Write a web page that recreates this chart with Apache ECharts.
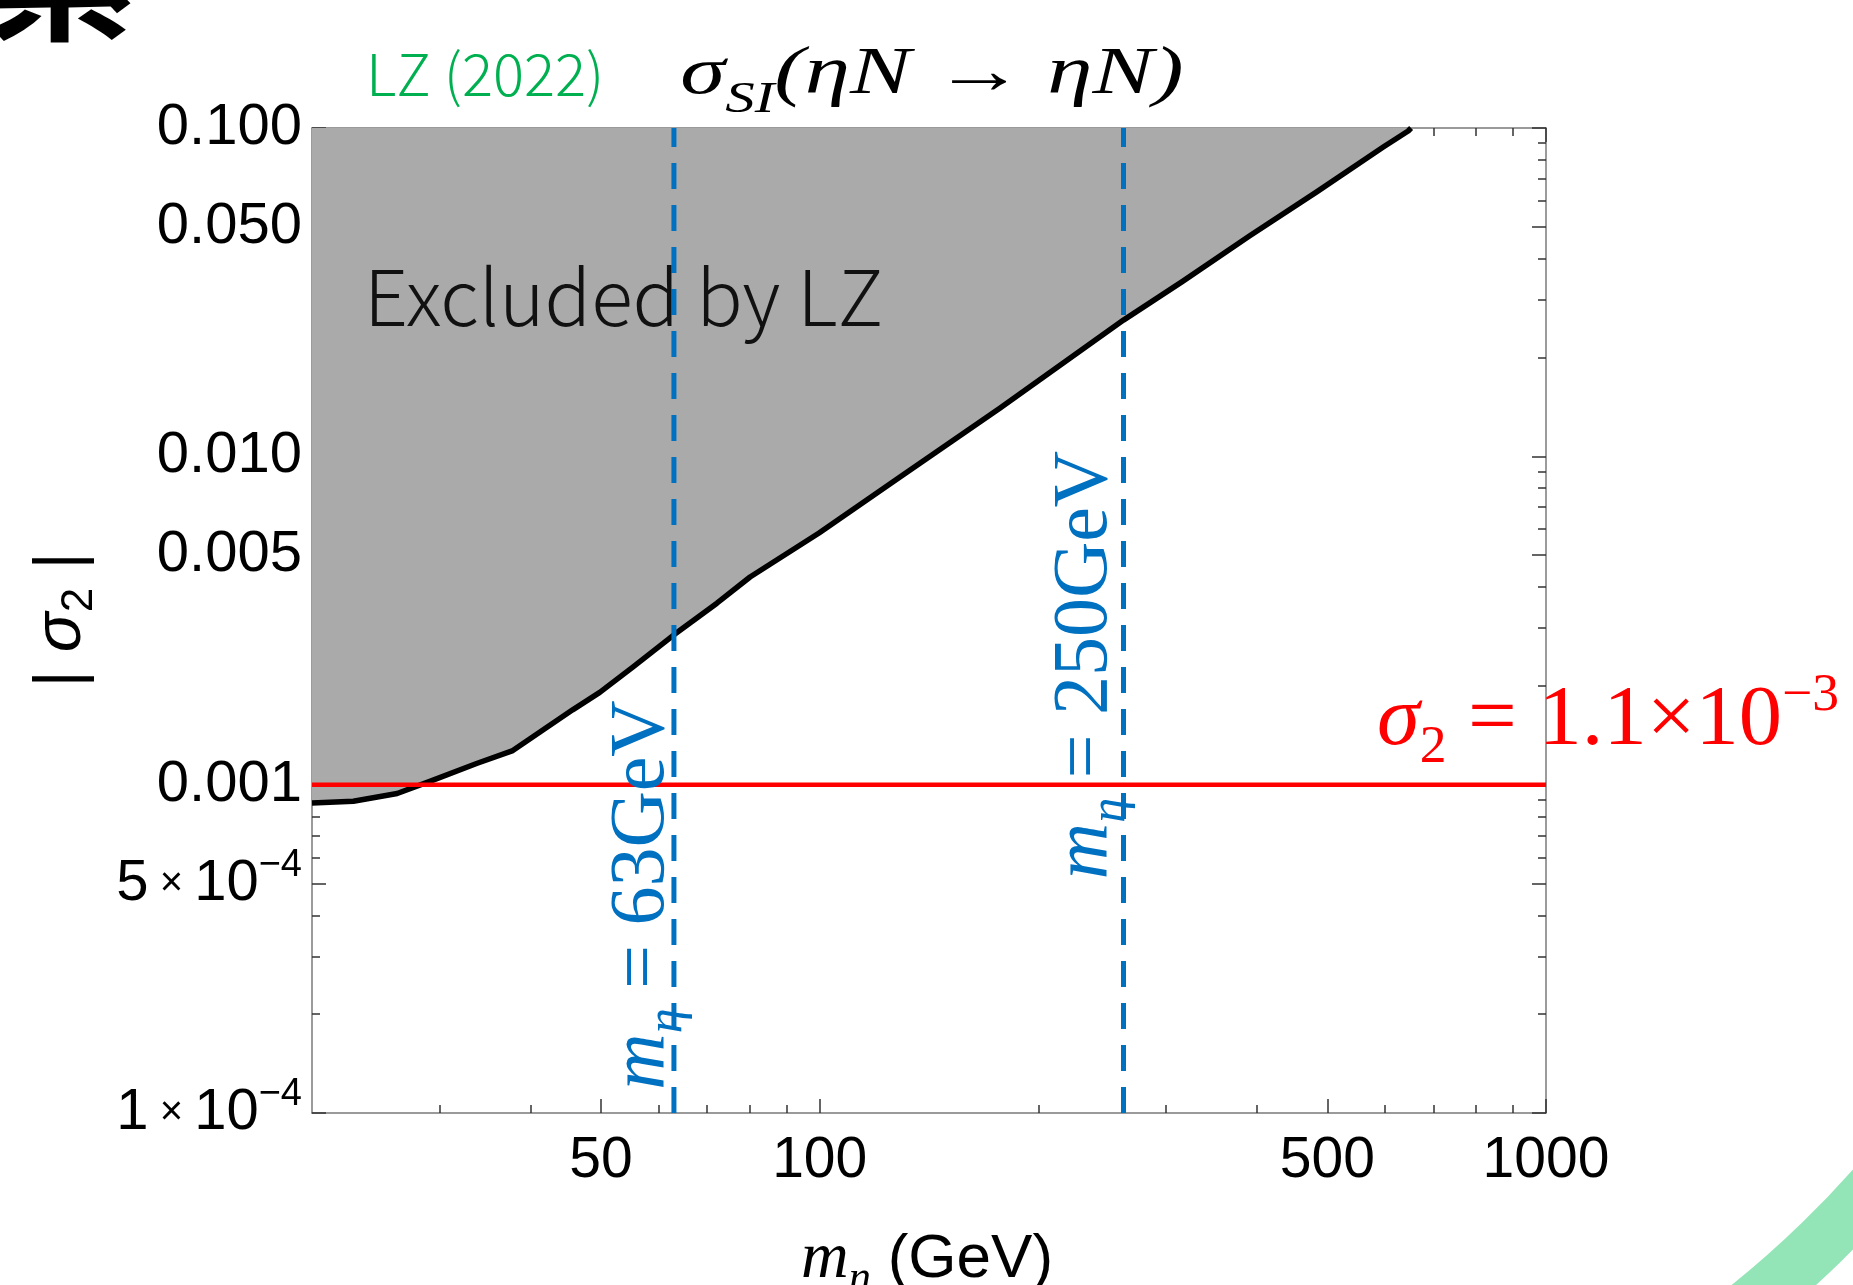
<!DOCTYPE html>
<html>
<head>
<meta charset="utf-8">
<script src="https://cdn.jsdelivr.net/npm/echarts@6/dist/echarts.min.js"></script>
<style>
html,body{margin:0;padding:0;background:#fff;}
#c{width:1853px;height:1285px;}
</style>
</head>
<body>
<div id="c"></div>
<script>
// ---- data ----
const massGeV      = [20, 22.8, 26.2, 29.3, 33.7, 37.8, 40.3, 45.7, 49.8, 55.3, 63, 72.2, 80.2, 99.8, 129, 177, 262, 316, 391, 484, 597, 646, 652];
const sigma2Limit  = [8.8e-4, 8.9e-4, 9.4e-4, 1.03e-3, 1.16e-3, 1.27e-3, 1.40e-3, 1.69e-3, 1.91e-3, 2.28e-3, 2.86e-3, 3.57e-3, 4.29e-3, 5.84e-3, 8.65e-3, 1.40e-2, 2.60e-2, 3.41e-2, 4.70e-2, 6.40e-2, 8.75e-2, 9.79e-2, 0.1];
const massMarkers  = [63, 262];
const markerLabels = ['63GeV', '250GeV'];
const sigma2Ref    = 0.001;
const xRange       = [20, 1000];
const yRange       = [1e-4, 0.1];
const xMajorTicks  = [50, 100, 500, 1000];
const xTickLabels  = ['50', '100', '500', '1000'];
const xMinorTicks  = [30, 40, 60, 70, 80, 90, 200, 300, 400, 600, 700, 800, 900];
const yMajorTicks  = [1e-4, 5e-4, 0.001, 0.005, 0.01, 0.05, 0.1];
const yTickLabels  = ['1|10|−4', '5|10|−4', '0.001', '0.005', '0.010', '0.050', '0.100'];
const yMinorTicks  = [2e-4, 3e-4, 4e-4, 6e-4, 7e-4, 8e-4, 9e-4, 0.002, 0.003, 0.004, 0.006, 0.007, 0.008, 0.009, 0.02, 0.03, 0.04, 0.06, 0.07, 0.08, 0.09];

// ---- build ----
const lg = Math.log10;
const X0 = lg(xRange[0]), X1 = lg(xRange[1]), Y0 = lg(yRange[0]), Y1 = lg(yRange[1]);
const limitData = massGeV.map((m, i) => [lg(m), lg(sigma2Limit[i])]);
const refData = [[X0, lg(sigma2Ref)], [X1, lg(sigma2Ref)]];

const SANS = 'Liberation Sans';
const SERIF = 'Liberation Serif';
const FRAME = '#7a7a7a';
const TICK = '#333333';

function findLabel(v, ticks, labels) {
  const i = ticks.findIndex(t => Math.abs(lg(t) - v) < 1e-6);
  return i >= 0 ? labels[i] : '';
}

function mkAxis(dim, pos, ticks, len, showLine, label) {
  const lo = dim === 'x' ? X0 : Y0, hi = dim === 'x' ? X1 : Y1;
  return {
    type: 'value', position: pos, min: lo, max: hi,
    axisLine: { show: showLine, onZero: false, lineStyle: { color: FRAME, width: 1.5 } },
    axisTick: { show: true, inside: true, length: len, customValues: ticks.map(lg), lineStyle: { color: TICK, width: 1.5 } },
    axisLabel: label || { show: false },
    splitLine: { show: false },
    minorTick: { show: false }
  };
}

const xLabel = {
  show: true, customValues: xMajorTicks.map(lg), margin: 20,
  fontFamily: SANS, fontSize: 57, color: '#000',
  formatter: v => findLabel(v, xMajorTicks, xTickLabels)
};
const yLabel = {
  show: true, customValues: yMajorTicks.map(lg), margin: 10,
  fontFamily: SANS, fontSize: 58, color: '#000',
  formatter: v => {
    const s = findLabel(v, yMajorTicks, yTickLabels);
    if (s.indexOf('|') >= 0) {
      const p = s.split('|');
      return '{m|' + p[0] + '}{x| × }{m|' + p[1] + '}{s|' + p[2] + '}';
    }
    return s;
  },
  rich: {
    m: { fontFamily: SANS, fontSize: 58, color: '#000', lineHeight: 74 },
    x: { fontFamily: SANS, fontSize: 40, color: '#000', lineHeight: 74 },
    s: { fontFamily: SANS, fontSize: 38, color: '#000', lineHeight: 38, verticalAlign: 'top' }
  }
};

const option = {
  animation: false,
  backgroundColor: '#ffffff',
  grid: { left: 312, top: 128, width: 1234, height: 985, containLabel: false, outerBoundsMode: 'none' },
  xAxis: [
    mkAxis('x', 'bottom', xMajorTicks, 14, true, xLabel),
    mkAxis('x', 'bottom', xMinorTicks, 8, false),
    mkAxis('x', 'top', xMajorTicks, 14, true),
    mkAxis('x', 'top', xMinorTicks, 8, false)
  ],
  yAxis: [
    mkAxis('y', 'left', yMajorTicks, 14, true, yLabel),
    mkAxis('y', 'left', yMinorTicks, 8, false),
    mkAxis('y', 'right', yMajorTicks, 14, true),
    mkAxis('y', 'right', yMinorTicks, 8, false)
  ],
  series: [
    {
      name: 'LZ (2022)', type: 'line', xAxisIndex: 0, yAxisIndex: 0, data: limitData,
      symbol: 'none', smooth: false, silent: true, z: 2,
      lineStyle: { color: '#000', width: 5.5, join: 'round' },
      areaStyle: { color: '#aaaaaa', opacity: 1, origin: 'end' }
    },
    {
      name: 'sigma2 ref', type: 'line', xAxisIndex: 0, yAxisIndex: 0, data: refData,
      symbol: 'none', silent: true, z: 4,
      lineStyle: { color: '#ff0000', width: 4.5 }
    }
  ].concat(massMarkers.map((m, i) => ({
    name: 'm_eta = ' + markerLabels[i], type: 'line', xAxisIndex: 0, yAxisIndex: 0,
    data: [[lg(m), Y0], [lg(m), Y1]], symbol: 'none', silent: true, z: 5,
    lineStyle: { color: '#0070c0', width: 5, type: [26, 16] }
  }))),
  graphic: [
    // slide decoration (arc segment in the bottom-right corner)
    { type: 'arc', z: -10, silent: true,
      shape: { cx: 1100, cy: 500, r: 1035, startAngle: 0.5, endAngle: 1.1, clockwise: true },
      style: { stroke: '#93e5b7', lineWidth: 55, fill: null } },
    // cropped heading glyph
    { type: 'text', x: 135, y: -28, z: 100, silent: true,
      style: { text: '素', fontFamily: 'Noto Sans CJK JP', fontWeight: 'bold', fontSize: 150, fill: '#000', textAlign: 'right', textVerticalAlign: 'middle' } },
    // LZ (2022)
    { type: 'text', x: 366, y: 74, z: 100, silent: true,
      style: { text: 'LZ (2022)', fontFamily: 'Noto Sans CJK JP', fontWeight: 300, fontSize: 58, fill: '#00b050', textAlign: 'left', textVerticalAlign: 'middle' } },
    // title formula
    { type: 'text', x: 932, y: 75, z: 100, scaleX: 1.34, silent: true,
      style: {
        text: '{i|σ}{b|SI}{i|(ηN}{r| → }{i|ηN)}', textAlign: 'center', textVerticalAlign: 'middle',
        rich: {
          i: { fontFamily: SERIF, fontStyle: 'italic', fontSize: 68, fill: '#000', lineHeight: 94 },
          r: { fontFamily: SERIF, fontSize: 68, fill: '#000', lineHeight: 94 },
          b: { fontFamily: SERIF, fontStyle: 'italic', fontSize: 44, fill: '#000', lineHeight: 44, verticalAlign: 'bottom' }
        }
      } },
    // Excluded by LZ
    { type: 'text', x: 364, y: 297, z: 100, silent: true,
      style: { text: 'Excluded by LZ', fontFamily: 'Noto Sans CJK JP', fontWeight: 300, fontSize: 77, fill: '#111', textAlign: 'left', textVerticalAlign: 'middle' } },
    // blue marker labels
    { type: 'text', x: 643, y: 895, z: 100, rotation: Math.PI / 2, silent: true,
      style: {
        text: '{i|m}{b|η}{r| = ' + markerLabels[0] + '}', textAlign: 'center', textVerticalAlign: 'middle',
        rich: {
          i: { fontFamily: SERIF, fontStyle: 'italic', fontSize: 78, fill: '#0070c0', lineHeight: 100 },
          r: { fontFamily: SERIF, fontSize: 78, fill: '#0070c0', lineHeight: 100 },
          b: { fontFamily: SERIF, fontStyle: 'italic', fontSize: 50, fill: '#0070c0', lineHeight: 50, verticalAlign: 'bottom' }
        }
      } },
    { type: 'text', x: 1086, y: 665, z: 100, rotation: Math.PI / 2, silent: true,
      style: {
        text: '{i|m}{b|η}{r| = ' + markerLabels[1] + '}', textAlign: 'center', textVerticalAlign: 'middle',
        rich: {
          i: { fontFamily: SERIF, fontStyle: 'italic', fontSize: 78, fill: '#0070c0', lineHeight: 100 },
          r: { fontFamily: SERIF, fontSize: 78, fill: '#0070c0', lineHeight: 100 },
          b: { fontFamily: SERIF, fontStyle: 'italic', fontSize: 50, fill: '#0070c0', lineHeight: 50, verticalAlign: 'bottom' }
        }
      } },
    // red reference label
    { type: 'text', x: 1377, y: 670, z: 100, scaleX: 1.03, silent: true,
      style: {
        text: '{i|σ}{b|2}{r| = 1.1×10}{p|−3}', textAlign: 'left', textVerticalAlign: 'top',
        rich: {
          i: { fontFamily: SERIF, fontStyle: 'italic', fontSize: 84, fill: '#ff0000', lineHeight: 104 },
          r: { fontFamily: SERIF, fontSize: 84, fill: '#ff0000', lineHeight: 104 },
          b: { fontFamily: SERIF, fontSize: 52, fill: '#ff0000', lineHeight: 52, verticalAlign: 'bottom' },
          p: { fontFamily: SERIF, fontSize: 52, fill: '#ff0000', lineHeight: 52, verticalAlign: 'top' }
        }
      } },
    // y axis name
    { type: 'text', x: 62, y: 620, z: 100, rotation: Math.PI / 2, silent: true,
      style: {
        text: '{a|| }{i|σ}{b|2}{a| |}', textAlign: 'center', textVerticalAlign: 'middle',
        rich: {
          a: { fontFamily: SANS, fontSize: 66, fill: '#000', lineHeight: 80 },
          i: { fontFamily: SANS, fontStyle: 'italic', fontSize: 66, fill: '#000', lineHeight: 80 },
          b: { fontFamily: SANS, fontSize: 44, fill: '#000', lineHeight: 44, verticalAlign: 'bottom' }
        }
      } },
    // x axis name
    { type: 'text', x: 927, y: 1260, z: 100, silent: true,
      style: {
        text: '{i|m}{b|η}{a| (GeV)}', textAlign: 'center', textVerticalAlign: 'middle',
        rich: {
          i: { fontFamily: SERIF, fontStyle: 'italic', fontSize: 66, fill: '#000', lineHeight: 82 },
          a: { fontFamily: SANS, fontSize: 62, fill: '#000', lineHeight: 82 },
          b: { fontFamily: SERIF, fontStyle: 'italic', fontSize: 44, fill: '#000', lineHeight: 44, verticalAlign: 'bottom' }
        }
      } }
  ]
};

const chart = echarts.init(document.getElementById('c'), null, { renderer: 'canvas', width: 1853, height: 1285 });
chart.setOption(option);
</script>
</body>
</html>
